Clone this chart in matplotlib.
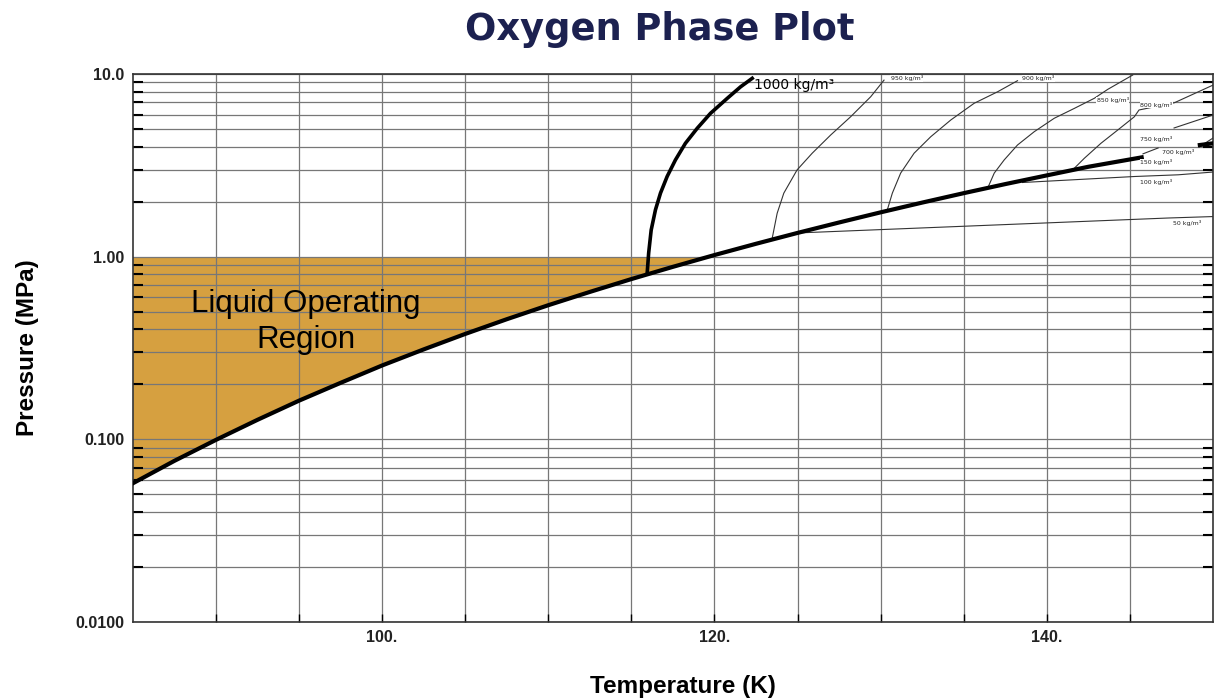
import matplotlib.pyplot as plt
import numpy as np
from matplotlib.ticker import FixedLocator, NullFormatter

# saturation (vapour pressure) curve of oxygen
sat_T = [85, 87.5, 90, 92.5, 95, 97.5, 100, 102.5, 105, 107.5, 110, 112.5, 115,
         117.5, 120, 122.5, 125, 127.5, 130, 132.5, 135, 137.5, 140, 142.5, 145.7]
sat_P = [0.0575, 0.0763, 0.0994, 0.128, 0.163, 0.204, 0.254, 0.311, 0.378, 0.455,
         0.543, 0.642, 0.755, 0.881, 1.022, 1.178, 1.351, 1.541, 1.751, 1.980,
         2.23, 2.50, 2.79, 3.11, 3.5]
sat2_T = [149.2, 150]
sat2_P = [4.09, 4.18]

# 1000 kg/m3 isochore (thick)
iso1000_T = [115.95, 116.04, 116.19, 116.45, 116.75, 117.15, 117.65, 118.25,
             118.96, 119.76, 120.77, 121.57, 122.27]
iso1000_P = [0.815, 1.05, 1.40, 1.81, 2.23, 2.75, 3.39, 4.18, 5.05, 6.10, 7.37, 8.52, 9.48]

# thin isochores
iso950_T = [123.47, 123.77, 124.17, 124.97, 125.88, 126.99, 128.19, 129.40, 130.20]
iso950_P = [1.26, 1.73, 2.23, 2.99, 3.69, 4.64, 5.84, 7.52, 9.27]
iso900_T = [130.40, 130.70, 131.20, 132.01, 133.01, 134.22, 135.62, 137.03, 138.23]
iso900_P = [1.81, 2.23, 2.87, 3.69, 4.54, 5.61, 6.92, 8.0, 9.2]
iso850_T = [136.43, 136.83, 137.43, 138.23, 139.24, 140.44, 141.65, 142.85, 143.66, 145.16]
iso850_P = [2.37, 2.87, 3.39, 4.09, 4.84, 5.73, 6.49, 7.37, 8.25, 9.88]
iso800_T = [141.55, 142.25, 143.25, 144.26, 145.26, 145.54, 147.67, 150.0]
iso800_P = [2.99, 3.46, 4.18, 4.94, 5.84, 6.36, 6.97, 8.71]
iso750_T = [147.65, 150.0]
iso750_P = [5.07, 5.97]
iso700_T = [145.78, 146.69]
iso700_P = [3.66, 3.94]
iso700b_T = [149.16, 150.0]
iso700b_P = [3.99, 4.47]
iso100_T = [138.53, 145.26, 147.9, 150.0]
iso100_P = [2.55, 2.75, 2.81, 2.91]
iso50_T = [125.0, 147.3, 150.0]
iso50_P = [1.35, 1.63, 1.66]

labels = ["950 kg/m³", "900 kg/m³", "850 kg/m³", "800 kg/m³", "750 kg/m³",
          "700 kg/m³", "150 kg/m³", "100 kg/m³", "50 kg/m³"]
label_T = [130.6, 138.5, 143.0, 145.6, 145.6, 146.9, 145.6, 145.6, 147.6]
label_P = [9.5, 9.5, 7.2, 6.8, 4.41, 3.74, 3.3, 2.57, 1.53]

fig = plt.figure(figsize=(12.18, 6.99), dpi=100)
ax = fig.add_axes([0.109, 0.110, 0.887, 0.784])

# liquid operating region
sat_T_arr = np.array(sat_T)
sat_P_arr = np.array(sat_P)
ax.fill_between(sat_T_arr, sat_P_arr, 1.0, where=sat_P_arr <= 1.0, interpolate=True,
                color="#d6a040", zorder=1, lw=0)

ax.plot(sat_T, sat_P, color="black", lw=3, zorder=4)
ax.plot(sat2_T, sat2_P, color="black", lw=3, zorder=4)
ax.plot(iso1000_T, iso1000_P, color="black", lw=2.6, zorder=4)

for T, P in [(iso950_T, iso950_P), (iso900_T, iso900_P), (iso850_T, iso850_P),
             (iso800_T, iso800_P), (iso750_T, iso750_P), (iso700_T, iso700_P),
             (iso700b_T, iso700b_P), (iso100_T, iso100_P), (iso50_T, iso50_P)]:
    ax.plot(T, P, color="#333333", lw=0.8, zorder=3)

for lab, t, p in zip(labels, label_T, label_P):
    ax.text(t, p, lab, fontsize=4.5, va="center", ha="left", color="#222222",
            zorder=5, bbox=dict(facecolor="white", edgecolor="none", pad=0.3))

ax.text(122.4, 8.7, "1000 kg/m³", fontsize=10, va="center", ha="left")
ax.text(95.4, 0.44, "Liquid Operating\nRegion", fontsize=22.5, ha="center", va="center",
        family="Liberation Sans", linespacing=1.25)

ax.set_yscale("log")
ax.set_xlim(85, 150)
ax.set_ylim(0.01, 10)

ax.set_yticks([0.01, 0.1, 1, 10])
ax.set_yticklabels(["0.0100", "0.100", "1.00", "10.0"])
minors = [m * 10.0 ** e for e in (-2, -1, 0) for m in range(2, 10)]
ax.yaxis.set_minor_locator(FixedLocator(minors))
ax.yaxis.set_minor_formatter(NullFormatter())
ax.set_xticks([100, 120, 140])
ax.set_xticklabels(["100.", "120.", "140."])
ax.xaxis.set_minor_locator(FixedLocator(np.arange(90, 150, 5)))

ax.tick_params(axis="both", which="both", direction="in", length=0, pad=6,
               labelsize=11.5)
ax.tick_params(axis="y", which="minor", left=True, right=True, length=7, width=1.5)
ax.tick_params(axis="x", which="both", bottom=True, length=6, width=1)
for lbl in ax.get_xticklabels() + ax.get_yticklabels():
    lbl.set_family("Liberation Sans")
    lbl.set_fontweight("bold")
    lbl.set_color("#222222")

ax.grid(True, which="both", axis="y", color="#777777", lw=0.9)
ax.grid(True, which="both", axis="x", color="#777777", lw=0.9)
for s in ax.spines.values():
    s.set_linewidth(1.2)
    s.set_color("#333333")

fig.text(0.542, 0.958, "Oxygen Phase Plot", ha="center", va="center",
         fontsize=26.5, fontweight="bold", color="#1c2150", family="DejaVu Sans")
ax.set_xlabel("Temperature (K)", fontsize=17.5, fontweight="bold",
              family="Liberation Sans", labelpad=21)
ax.xaxis.label.set_x(0.509)
ax.set_ylabel("Pressure (MPa)", fontsize=17.5, fontweight="bold",
              family="Liberation Sans", labelpad=26)

fig.savefig("out.png", dpi=100)
